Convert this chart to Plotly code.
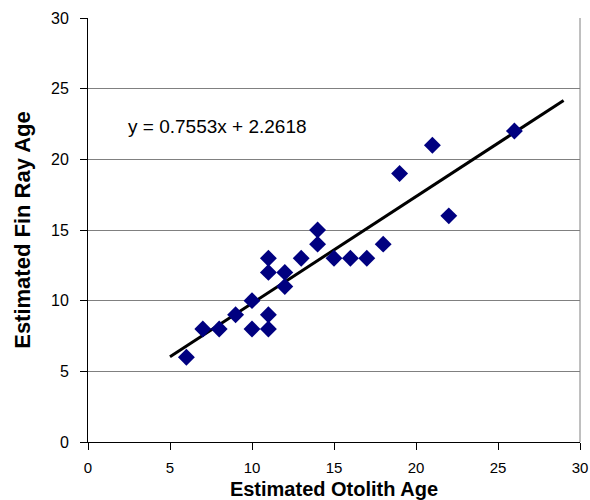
import plotly.graph_objects as go

otolith_age = [6, 7, 8, 9, 10, 10, 11, 11, 11, 11, 12, 12, 13, 14, 14, 15, 16, 17, 18, 19, 21, 22, 26]
fin_ray_age = [6, 8, 8, 9, 10, 8, 13, 12, 9, 8, 12, 11, 13, 15, 14, 13, 13, 13, 14, 19, 21, 16, 22]
slope = 0.7553
intercept = 2.2618
trend_x = [5, 29]
trend_y = [slope * x + intercept for x in trend_x]

fig = go.Figure()
fig.add_trace(go.Scatter(x=trend_x, y=trend_y, mode="lines",
                         line=dict(color="black", width=3), showlegend=False, hoverinfo="skip"))
fig.add_trace(go.Scatter(x=otolith_age, y=fin_ray_age, mode="markers",
                         marker=dict(symbol="diamond", size=13, color="#000080"),
                         showlegend=False))

fig.add_shape(type="line", xref="paper", yref="paper", x0=1, x1=1, y0=0, y1=1,
              layer="above", line=dict(color="#808080", width=1))

fig.add_annotation(x=2.3, xref="x", y=22.3, yref="y", xanchor="left",
                   text=f"y = {slope}x + {intercept}", showarrow=False,
                   font=dict(family="Liberation Sans, Arial", size=19, color="black"))

fig.update_layout(
    width=590, height=500,
    margin=dict(l=88, r=10, t=18, b=58, autoexpand=False),
    paper_bgcolor="white", plot_bgcolor="white",
    font=dict(family="Liberation Sans, Arial", size=16, color="black"),
    xaxis=dict(range=[0, 30], dtick=5, showgrid=False, zeroline=False,
               showline=True, linecolor="black", linewidth=1,
               ticks="outside", ticklen=7, tickcolor="black", ticklabelstandoff=5,
               tickfont=dict(size=15),
               title=dict(text="<b>Estimated Otolith Age</b>", font=dict(size=20), standoff=8)),
    yaxis=dict(range=[0, 30], dtick=5, showgrid=True, gridcolor="#808080", gridwidth=1,
               zeroline=False, showline=True, linecolor="black", linewidth=1,
               ticks="outside", ticklen=7, tickcolor="black", ticklabelstandoff=8,
               title=dict(text="<b>Estimated Fin Ray Age</b>", font=dict(size=22), standoff=14)),
)

fig.write_html("out.html", config={"displayModeBar": False},
               post_script="document.body.style.margin='0';document.body.style.overflow='hidden';")
